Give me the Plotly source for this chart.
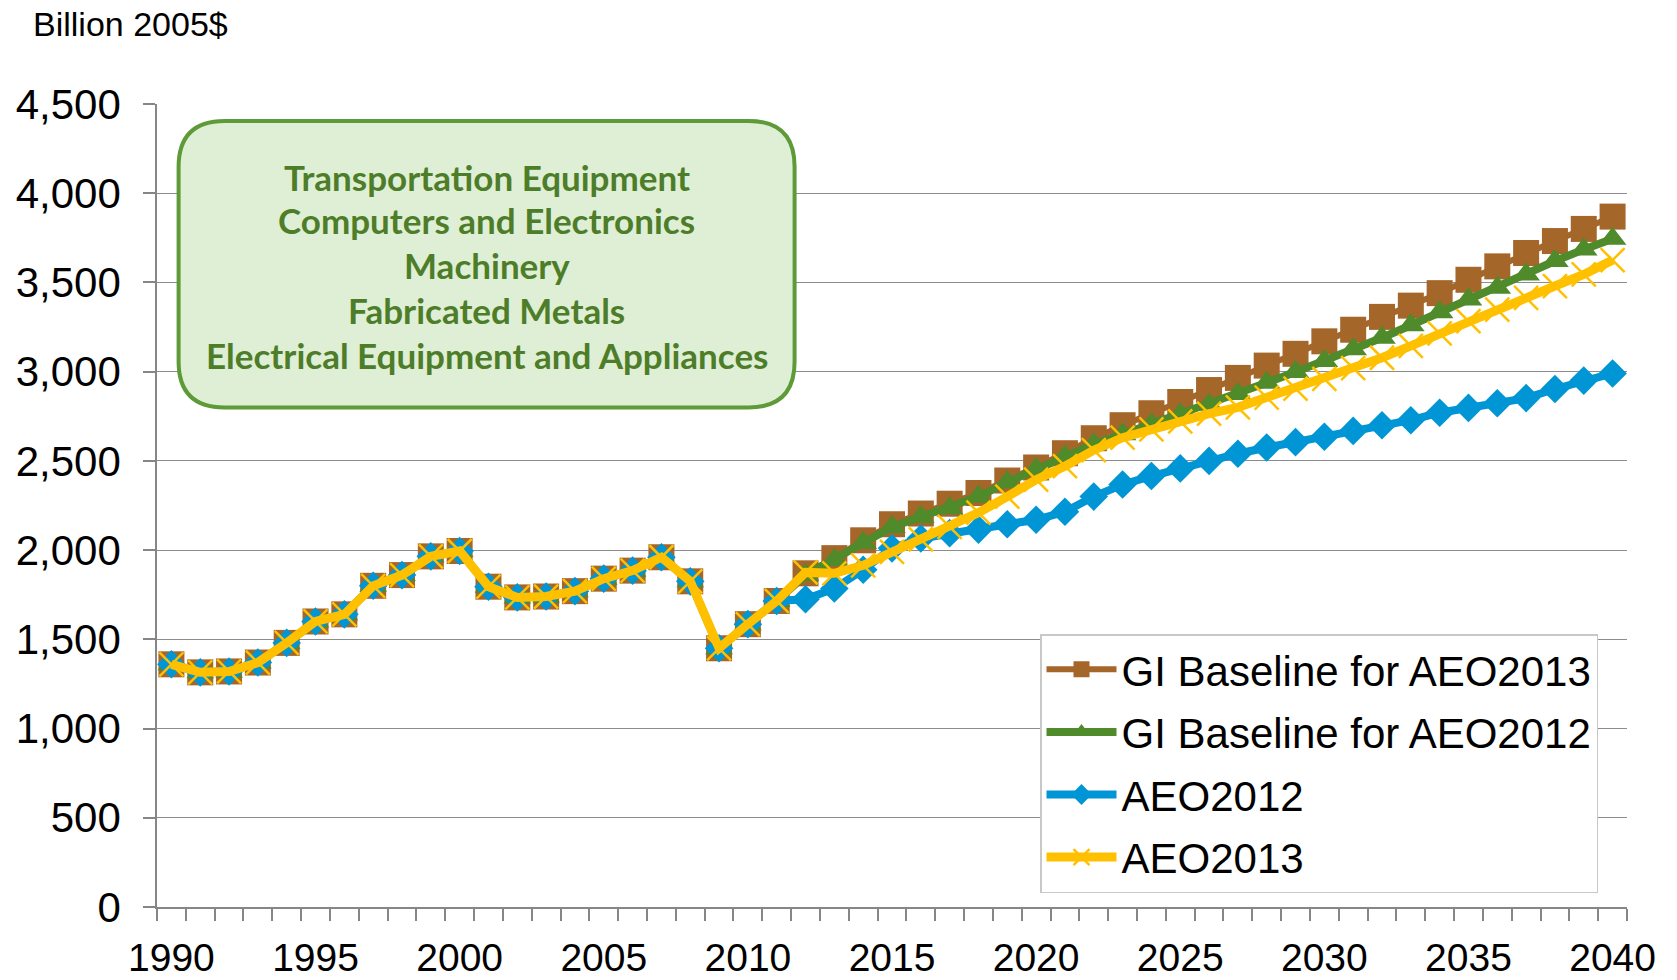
import plotly.graph_objects as go

# ---------------- data ----------------
years = list(range(1990, 2041))
hist_years = list(range(1990, 2012))
proj_years = list(range(2012, 2041))

history = [1360, 1315, 1320, 1370, 1480, 1600, 1640, 1800, 1860, 1965, 1995,
           1795, 1735, 1740, 1770, 1840, 1885, 1960, 1825, 1450, 1585, 1715]

gi_aeo2013_proj = [1870, 1955, 2055, 2145, 2205, 2260, 2320, 2390, 2463, 2543,
                   2627, 2700, 2767, 2830, 2897, 2965, 3034, 3100, 3170, 3235,
                   3307, 3370, 3440, 3515, 3590, 3665, 3732, 3800, 3869]
gi_aeo2012_proj = [1860, 1945, 2040, 2130, 2185, 2235, 2300, 2380, 2455, 2525,
                   2593, 2649, 2705, 2761, 2815, 2875, 2938, 2998, 3060, 3125,
                   3190, 3260, 3333, 3404, 3470, 3545, 3620, 3685, 3745]
aeo2012_proj = [1725, 1785, 1890, 2010, 2065, 2095, 2115, 2145, 2170, 2215,
                2300, 2368, 2415, 2458, 2500, 2540, 2575, 2605, 2635, 2668,
                2700, 2728, 2770, 2797, 2823, 2852, 2903, 2950, 2990]
aeo2013_proj = [1875, 1870, 1915, 1990, 2060, 2130, 2210, 2300, 2395, 2470,
                2560, 2630, 2677, 2722, 2765, 2800, 2855, 2905, 2960, 3020,
                3078, 3145, 3214, 3283, 3348, 3414, 3480, 3545, 3625]

series_names = ["GI Baseline for AEO2013", "GI Baseline for AEO2012", "AEO2012", "AEO2013"]
series_proj = [gi_aeo2013_proj, gi_aeo2012_proj, aeo2012_proj, aeo2013_proj]

x_tick_labels = ["1990", "1995", "2000", "2005", "2010", "2015", "2020",
                 "2025", "2030", "2035", "2040"]
y_tick_values = [0, 500, 1000, 1500, 2000, 2500, 3000, 3500, 4000, 4500]

box_lines = ["Transportation Equipment", "Computers and Electronics", "Machinery",
             "Fabricated Metals", "Electrical Equipment and Appliances"]

# ---------------- styles ----------------
styles = [
    dict(color="#A5662A", symbol="square", size=26, lw=6, mline=dict(width=0)),
    dict(color="#4F8A2B", symbol="triangle-up", size=24, lw=8, mline=dict(width=0)),
    dict(color="#0096D6", symbol="diamond", size=22, lw=8, mline=dict(width=0)),
    dict(color="#FFC000", symbol="x-thin", size=24, lw=9, mline=dict(width=2.5, color="#FFC000")),
]

FONT = "Liberation Sans, Arial, sans-serif"

fig = go.Figure()
for name, proj, st in zip(series_names, series_proj, styles):
    fig.add_trace(go.Scatter(
        x=years, y=history + proj, name=name, mode="lines+markers",
        line=dict(color=st["color"], width=st["lw"]),
        marker=dict(symbol=st["symbol"], size=st["size"], color=st["color"],
                    line=st["mline"]),
        legendgroup=name,
    ))

W, H = 1677, 980
L, R, T, B = 157, 50, 104, 73
pw, ph = W - L - R, H - T - B


def px_x(v):
    return (v - L) / pw


def px_y(v):
    return (H - B - v) / ph


# rounded box (pixel geometry converted to paper)
bx0, bx1, by0, by1, rad = 178.6, 794.6, 120.9, 407.5, 46
rx, ry = rad / pw, rad / ph
X0, X1, Y0, Y1 = px_x(bx0), px_x(bx1), px_y(by1), px_y(by0)
path = (f"M{X0+rx},{Y0} L{X1-rx},{Y0} Q{X1},{Y0} {X1},{Y0+ry} "
        f"L{X1},{Y1-ry} Q{X1},{Y1} {X1-rx},{Y1} L{X0+rx},{Y1} "
        f"Q{X0},{Y1} {X0},{Y1-ry} L{X0},{Y0+ry} Q{X0},{Y0} {X0+rx},{Y0} Z")
fig.add_shape(type="path", path=path, xref="paper", yref="paper",
              fillcolor="#DEEFD5", line=dict(color="#5E9A38", width=4), layer="above")

line_y = [176.5, 220.3, 265.2, 310.2, 355.1]
for txt, yy in zip(box_lines, line_y):
    fig.add_annotation(text=f"<b>{txt}</b>", x=px_x(486.6), y=px_y(yy), xref="paper", yref="paper",
                       showarrow=False, xanchor="center", yanchor="middle",
                       font=dict(family="Lato, Open Sans, sans-serif", size=35, color="#4E7D29"))

fig.add_annotation(text="Billion 2005$", x=px_x(31), y=px_y(24), xref="paper", yref="paper",
                   xanchor="left", yanchor="middle", showarrow=False,
                   font=dict(family=FONT, size=34, color="black"))

fig.update_layout(
    width=W, height=H,
    margin=dict(l=L, r=R, t=T, b=B, pad=0),
    paper_bgcolor="white", plot_bgcolor="white",
    font=dict(family=FONT, color="black"),
    showlegend=True,
    legend=dict(
        x=px_x(1040), y=px_y(634), xanchor="left", yanchor="top",
        bgcolor="white", bordercolor="#C8C8C8", borderwidth=1.5,
        font=dict(family=FONT, size=42, color="black"),
        itemwidth=70, tracegroupgap=5, traceorder="grouped",
        entrywidth=500, entrywidthmode="pixels",
    ),
    xaxis=dict(
        range=[1989.5, 2040.5], tickmode="array",
        tickvals=[int(t) for t in x_tick_labels], ticktext=x_tick_labels,
        ticks="", showgrid=False, zeroline=False, automargin=False,
        showline=True, linecolor="#868686", linewidth=1.5,
        tickfont=dict(family=FONT, size=39, color="black"),
        ticklabelstandoff=15,
        minor=dict(tickmode="array", tickvals=[y - 0.5 for y in years] + [2040.5],
                   ticks="outside", ticklen=12, tickcolor="#868686", tickwidth=1.5,
                   showgrid=False),
    ),
    yaxis=dict(
        range=[0, 4500], tickmode="array", tickvals=y_tick_values,
        tickformat=",", ticks="outside", ticklen=12, tickcolor="#868686", tickwidth=1.5,
        showgrid=True, gridcolor="#8C8C8C", gridwidth=1.3, zeroline=False, automargin=False,
        showline=True, linecolor="#868686", linewidth=1.5,
        tickfont=dict(family=FONT, size=42, color="black"),
        ticklabelstandoff=14,
    ),
)

fig.write_html("out.html", config={"displayModeBar": False},
               post_script="document.body.style.margin='0px';"
                           "document.documentElement.style.overflow='hidden';")
